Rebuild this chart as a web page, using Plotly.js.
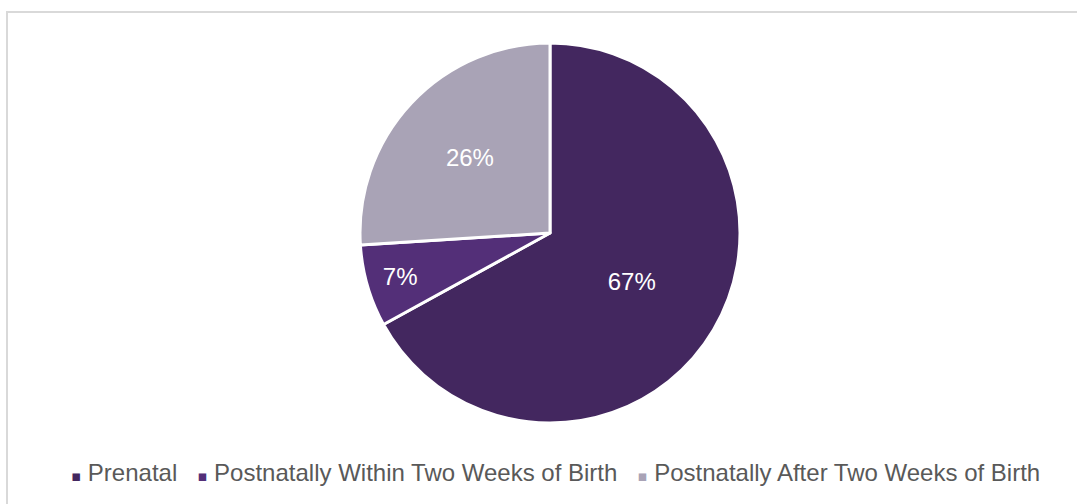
<!DOCTYPE html>
<html>
<head>
<meta charset="utf-8">
<script src="https://cdn.plot.ly/plotly-3.0.1.min.js"></script>
<style>html,body{margin:0;padding:0;background:#fff;}#chart{width:1077px;height:504px;}</style>
</head>
<body>
<div id="chart"></div>
<script>
const labels = ["Prenatal", "Postnatally Within Two Weeks of Birth", "Postnatally After Two Weeks of Birth"];
const values = [67, 7, 26];
const colors = ["#43275F", "#532F78", "#A9A3B6"];

const data = [{
  type: "pie",
  labels: labels,
  values: values,
  sort: false,
  direction: "clockwise",
  rotation: 0,
  textinfo: "percent",
  texttemplate: "%{percent:.0%}",
  textposition: "inside",
  insidetextorientation: "horizontal",
  textfont: {family: "Liberation Sans, Arial, sans-serif", size: 24, color: "#ffffff"},
  marker: {colors: colors, line: {color: "#ffffff", width: 3}},
  hoverinfo: "none",
  showlegend: false
}];

// Legend built from the same labels/colors arrays (compact spacing like the original)
const legendText = labels.map((lab, i) =>
  '<span style="color:' + colors[i] + ';font-family:DejaVu Sans;font-size:15px">\u25AA</span>\u00A0' + lab
).join('\u00A0\u00A0\u00A0');

const layout = {
  width: 1077,
  height: 504,
  margin: {l: 23, r: 0, t: 43, b: 81},
  paper_bgcolor: "#ffffff",
  showlegend: false,
  annotations: [{
    xref: "paper", yref: "paper",
    x: (555 - 23) / 1054, y: -0.129,
    xanchor: "center", yanchor: "middle",
    showarrow: false,
    text: legendText,
    font: {family: "Liberation Sans, Arial, sans-serif", size: 24, color: "#595959"}
  }],
  shapes: [{
    type: "rect", xref: "paper", yref: "paper",
    x0: -16/1054, x1: 1.1, y0: -0.3, y1: (423-12)/380,
    line: {color: "#d9d9d9", width: 2}, fillcolor: "rgba(0,0,0,0)", layer: "below"
  }]
};

Plotly.newPlot("chart", data, layout, {staticPlot: true, displayModeBar: false});
</script>
</body>
</html>
